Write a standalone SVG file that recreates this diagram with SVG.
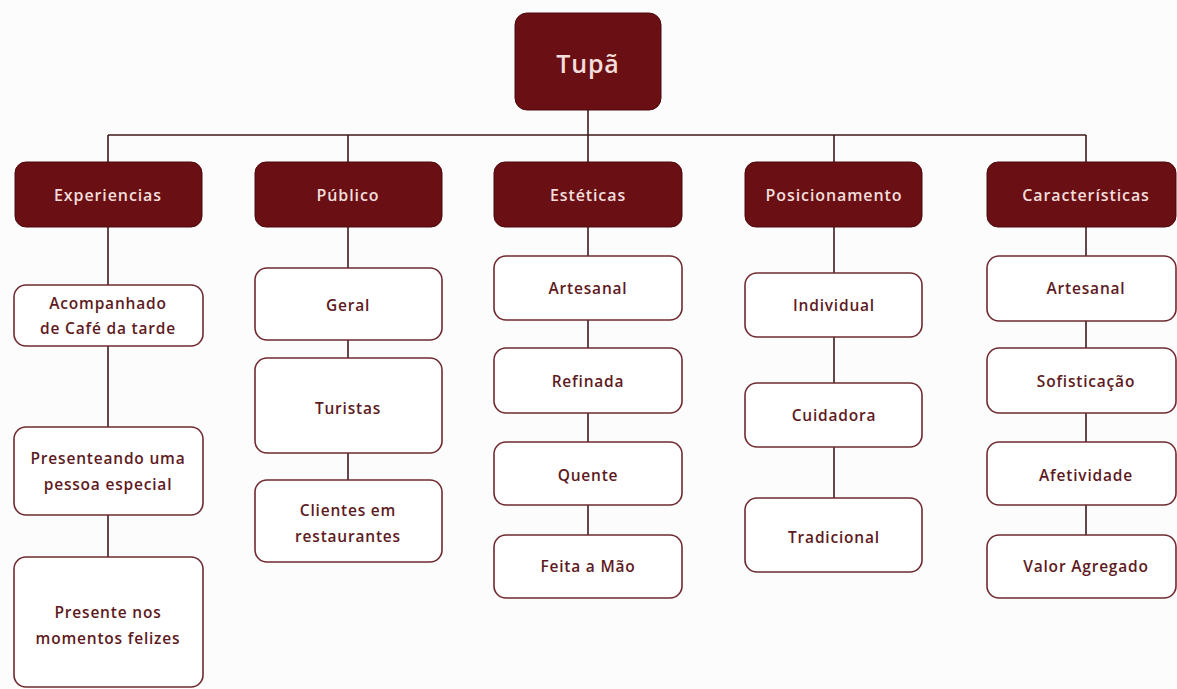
<svg xmlns="http://www.w3.org/2000/svg" width="1177" height="689" viewBox="0 0 1177 689">
<style>
.bg{fill:#fdfcfc}
.dark rect{fill:#6a1015;stroke:#4a0a0e;stroke-width:1}
.dark text{fill:#f3dedb;font-family:"Open Sans","Liberation Sans",sans-serif;font-weight:600;font-size:16px;letter-spacing:0.9px;text-anchor:middle;dominant-baseline:central}
.root text{font-size:25px;letter-spacing:0.8px}
.leaf rect{fill:#ffffff;stroke:#6e2a30;stroke-width:1.6}
.leaf text{fill:#5e1a22;font-family:"Open Sans","Liberation Sans",sans-serif;font-weight:600;font-size:15.5px;letter-spacing:0.8px;text-anchor:middle;dominant-baseline:central}
.conn line{stroke:#3e1a1d;stroke-width:1.6}
</style>
<rect class="bg" x="0" y="0" width="1177" height="689"/>
<g id="connectors" class="conn">
<line x1="588" y1="110" x2="588" y2="135"/>
<line x1="108" y1="135" x2="1086" y2="135"/>
<line x1="108" y1="135" x2="108" y2="162"/>
<line x1="348" y1="135" x2="348" y2="162"/>
<line x1="588" y1="135" x2="588" y2="162"/>
<line x1="834" y1="135" x2="834" y2="162"/>
<line x1="1086" y1="135" x2="1086" y2="162"/>
<line x1="108" y1="227" x2="108" y2="557"/>
<line x1="348" y1="227" x2="348" y2="480"/>
<line x1="588" y1="227" x2="588" y2="535"/>
<line x1="834" y1="227" x2="834" y2="498"/>
<line x1="1086" y1="227" x2="1086" y2="535"/>
</g>
<g id="root" class="dark root"><rect x="515" y="13" width="146" height="97" rx="12"/><text x="588" y="63">Tupã</text></g>
<g id="experiencias" class="dark"><rect x="15" y="162" width="187" height="65" rx="11"/><text x="108" y="195">Experiencias</text></g>
<g id="publico" class="dark"><rect x="255" y="162" width="187" height="65" rx="11"/><text x="348" y="195">Público</text></g>
<g id="esteticas" class="dark"><rect x="494" y="162" width="188" height="65" rx="11"/><text x="588" y="195">Estéticas</text></g>
<g id="posicionamento" class="dark"><rect x="745" y="162" width="177" height="65" rx="11"/><text x="834" y="195">Posicionamento</text></g>
<g id="caracteristicas" class="dark"><rect x="987" y="162" width="189" height="65" rx="11"/><text x="1086" y="195">Características</text></g>

<g id="acompanhado" class="leaf"><rect x="14" y="285" width="189" height="61" rx="12"/><text x="108" y="303">Acompanhado</text><text x="108" y="328">de Café da tarde</text></g>
<g id="presenteando" class="leaf"><rect x="14" y="427" width="189" height="88" rx="12"/><text x="108" y="458">Presenteando uma</text><text x="108" y="484">pessoa especial</text></g>
<g id="presente" class="leaf"><rect x="14" y="557" width="189" height="130" rx="12"/><text x="108" y="612">Presente nos</text><text x="108" y="638">momentos felizes</text></g>

<g id="geral" class="leaf"><rect x="255" y="268" width="187" height="72" rx="12"/><text x="348" y="305">Geral</text></g>
<g id="turistas" class="leaf"><rect x="255" y="358" width="187" height="95" rx="12"/><text x="348" y="408">Turistas</text></g>
<g id="clientes" class="leaf"><rect x="255" y="480" width="187" height="82" rx="12"/><text x="348" y="510">Clientes em</text><text x="348" y="536">restaurantes</text></g>

<g id="artesanal1" class="leaf"><rect x="494" y="256" width="188" height="64" rx="12"/><text x="588" y="288">Artesanal</text></g>
<g id="refinada" class="leaf"><rect x="494" y="348" width="188" height="65" rx="12"/><text x="588" y="381">Refinada</text></g>
<g id="quente" class="leaf"><rect x="494" y="442" width="188" height="63" rx="12"/><text x="588" y="475">Quente</text></g>
<g id="feita" class="leaf"><rect x="494" y="535" width="188" height="63" rx="12"/><text x="588" y="566">Feita a Mão</text></g>

<g id="individual" class="leaf"><rect x="745" y="273" width="177" height="64" rx="12"/><text x="834" y="305">Individual</text></g>
<g id="cuidadora" class="leaf"><rect x="745" y="383" width="177" height="64" rx="12"/><text x="834" y="415">Cuidadora</text></g>
<g id="tradicional" class="leaf"><rect x="745" y="498" width="177" height="74" rx="12"/><text x="834" y="537">Tradicional</text></g>

<g id="artesanal2" class="leaf"><rect x="987" y="256" width="189" height="65" rx="12"/><text x="1086" y="288">Artesanal</text></g>
<g id="sofisticacao" class="leaf"><rect x="987" y="348" width="189" height="65" rx="12"/><text x="1086" y="381">Sofisticação</text></g>
<g id="afetividade" class="leaf"><rect x="987" y="442" width="189" height="63" rx="12"/><text x="1086" y="475">Afetividade</text></g>
<g id="valor" class="leaf"><rect x="987" y="535" width="189" height="63" rx="12"/><text x="1086" y="566">Valor Agregado</text></g>
</svg>
